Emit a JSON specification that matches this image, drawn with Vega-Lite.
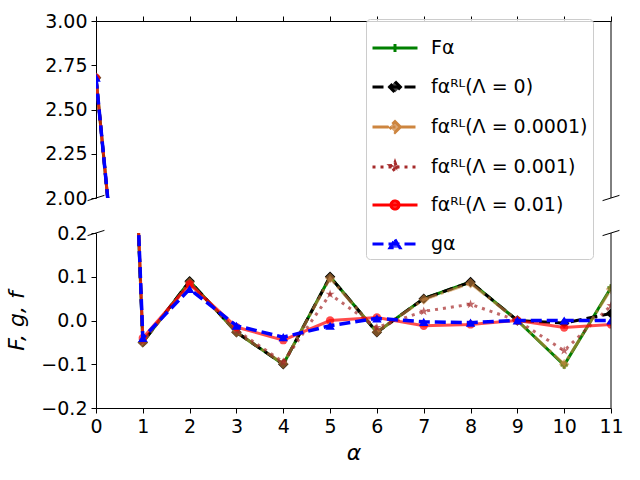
{
  "$schema": "https://vega.github.io/schema/vega-lite/v6.json",
  "padding": {"left": 5, "top": 12, "right": 5, "bottom": 5},
  "bounds": "flush",
  "spacing": 35,
  "config": {
    "font": "DejaVu Sans",
    "view": {"stroke": null},
    "axis": {
      "grid": false,
      "labelFont": "DejaVu Sans",
      "titleFont": "DejaVu Sans",
      "labelFontSize": 19,
      "titleFontSize": 22,
      "titleFontWeight": "normal",
      "titleFontStyle": "italic",
      "labelColor": "#000000",
      "titleColor": "#000000",
      "domainColor": "#000000",
      "tickColor": "#000000",
      "tickSize": 5,
      "labelPadding": 4,
      "labelFlush": false,
      "labelOverlap": false
    }
  },
  "datasets": {
    "d": [
      {"alpha": 0, "value": 2.68, "series": "Fα"},
      {"alpha": 1, "value": -0.05, "series": "Fα"},
      {"alpha": 2, "value": 0.09, "series": "Fα"},
      {"alpha": 3, "value": -0.027, "series": "Fα"},
      {"alpha": 4, "value": -0.1, "series": "Fα"},
      {"alpha": 5, "value": 0.1, "series": "Fα"},
      {"alpha": 6, "value": -0.027, "series": "Fα"},
      {"alpha": 7, "value": 0.05, "series": "Fα"},
      {"alpha": 8, "value": 0.088, "series": "Fα"},
      {"alpha": 9, "value": 0.0, "series": "Fα"},
      {"alpha": 10, "value": -0.102, "series": "Fα"},
      {"alpha": 11, "value": 0.075, "series": "Fα"},
      {"alpha": 0, "value": 2.68, "series": "fαᴿᴸ(Λ = 0)"},
      {"alpha": 1, "value": -0.05, "series": "fαᴿᴸ(Λ = 0)"},
      {"alpha": 2, "value": 0.09, "series": "fαᴿᴸ(Λ = 0)"},
      {"alpha": 3, "value": -0.027, "series": "fαᴿᴸ(Λ = 0)"},
      {"alpha": 4, "value": -0.1, "series": "fαᴿᴸ(Λ = 0)"},
      {"alpha": 5, "value": 0.1, "series": "fαᴿᴸ(Λ = 0)"},
      {"alpha": 6, "value": -0.027, "series": "fαᴿᴸ(Λ = 0)"},
      {"alpha": 7, "value": 0.05, "series": "fαᴿᴸ(Λ = 0)"},
      {"alpha": 8, "value": 0.088, "series": "fαᴿᴸ(Λ = 0)"},
      {"alpha": 9, "value": 0.0, "series": "fαᴿᴸ(Λ = 0)"},
      {"alpha": 10, "value": -0.006, "series": "fαᴿᴸ(Λ = 0)"},
      {"alpha": 11, "value": 0.016, "series": "fαᴿᴸ(Λ = 0)"},
      {"alpha": 0, "value": 2.68, "series": "fαᴿᴸ(Λ = 0.0001)"},
      {"alpha": 1, "value": -0.05, "series": "fαᴿᴸ(Λ = 0.0001)"},
      {"alpha": 2, "value": 0.087, "series": "fαᴿᴸ(Λ = 0.0001)"},
      {"alpha": 3, "value": -0.027, "series": "fαᴿᴸ(Λ = 0.0001)"},
      {"alpha": 4, "value": -0.099, "series": "fαᴿᴸ(Λ = 0.0001)"},
      {"alpha": 5, "value": 0.097, "series": "fαᴿᴸ(Λ = 0.0001)"},
      {"alpha": 6, "value": -0.026, "series": "fαᴿᴸ(Λ = 0.0001)"},
      {"alpha": 7, "value": 0.048, "series": "fαᴿᴸ(Λ = 0.0001)"},
      {"alpha": 8, "value": 0.085, "series": "fαᴿᴸ(Λ = 0.0001)"},
      {"alpha": 9, "value": 0.0, "series": "fαᴿᴸ(Λ = 0.0001)"},
      {"alpha": 10, "value": -0.1, "series": "fαᴿᴸ(Λ = 0.0001)"},
      {"alpha": 11, "value": 0.072, "series": "fαᴿᴸ(Λ = 0.0001)"},
      {"alpha": 0, "value": 2.68, "series": "fαᴿᴸ(Λ = 0.001)"},
      {"alpha": 1, "value": -0.047, "series": "fαᴿᴸ(Λ = 0.001)"},
      {"alpha": 2, "value": 0.085, "series": "fαᴿᴸ(Λ = 0.001)"},
      {"alpha": 3, "value": -0.022, "series": "fαᴿᴸ(Λ = 0.001)"},
      {"alpha": 4, "value": -0.095, "series": "fαᴿᴸ(Λ = 0.001)"},
      {"alpha": 5, "value": 0.06, "series": "fαᴿᴸ(Λ = 0.001)"},
      {"alpha": 6, "value": -0.016, "series": "fαᴿᴸ(Λ = 0.001)"},
      {"alpha": 7, "value": 0.021, "series": "fαᴿᴸ(Λ = 0.001)"},
      {"alpha": 8, "value": 0.037, "series": "fαᴿᴸ(Λ = 0.001)"},
      {"alpha": 9, "value": 0.0, "series": "fαᴿᴸ(Λ = 0.001)"},
      {"alpha": 10, "value": -0.069, "series": "fαᴿᴸ(Λ = 0.001)"},
      {"alpha": 11, "value": 0.034, "series": "fαᴿᴸ(Λ = 0.001)"},
      {"alpha": 0, "value": 2.68, "series": "fαᴿᴸ(Λ = 0.01)"},
      {"alpha": 1, "value": -0.04, "series": "fαᴿᴸ(Λ = 0.01)"},
      {"alpha": 2, "value": 0.083, "series": "fαᴿᴸ(Λ = 0.01)"},
      {"alpha": 3, "value": -0.015, "series": "fαᴿᴸ(Λ = 0.01)"},
      {"alpha": 4, "value": -0.045, "series": "fαᴿᴸ(Λ = 0.01)"},
      {"alpha": 5, "value": 0.0, "series": "fαᴿᴸ(Λ = 0.01)"},
      {"alpha": 6, "value": 0.007, "series": "fαᴿᴸ(Λ = 0.01)"},
      {"alpha": 7, "value": -0.012, "series": "fαᴿᴸ(Λ = 0.01)"},
      {"alpha": 8, "value": -0.009, "series": "fαᴿᴸ(Λ = 0.01)"},
      {"alpha": 9, "value": 0.0, "series": "fαᴿᴸ(Λ = 0.01)"},
      {"alpha": 10, "value": -0.016, "series": "fαᴿᴸ(Λ = 0.01)"},
      {"alpha": 11, "value": -0.009, "series": "fαᴿᴸ(Λ = 0.01)"},
      {"alpha": 0, "value": 2.68, "series": "gα"},
      {"alpha": 1, "value": -0.04, "series": "gα"},
      {"alpha": 2, "value": 0.072, "series": "gα"},
      {"alpha": 3, "value": -0.012, "series": "gα"},
      {"alpha": 4, "value": -0.038, "series": "gα"},
      {"alpha": 5, "value": -0.012, "series": "gα"},
      {"alpha": 6, "value": 0.005, "series": "gα"},
      {"alpha": 7, "value": -0.003, "series": "gα"},
      {"alpha": 8, "value": -0.005, "series": "gα"},
      {"alpha": 9, "value": 0.0, "series": "gα"},
      {"alpha": 10, "value": 0.0, "series": "gα"},
      {"alpha": 11, "value": 0.0, "series": "gα"}
    ],
    "edgesTop": [
      {"alpha": -0.18, "alpha2": 0.18, "value": 1.985, "value2": 2.015},
      {"alpha": 10.82, "alpha2": 11.18, "value": 1.985, "value2": 2.015},
      {"alpha": 11, "alpha2": 11, "value": 2, "value2": 3}
    ],
    "edgesBottom": [
      {"alpha": -0.18, "alpha2": 0.18, "value": 0.194, "value2": 0.206},
      {"alpha": 10.82, "alpha2": 11.18, "value": 0.194, "value2": 0.206},
      {"alpha": 11, "alpha2": 11, "value": -0.2, "value2": 0.2}
    ]
  },
  "vconcat": [
    {
      "width": 515,
      "height": 177,
      "data": {"name": "d"},
      "encoding": {
        "x": {
          "field": "alpha",
          "type": "quantitative",
          "scale": {"domain": [0, 11], "nice": false},
          "axis": {"orient": "top", "labels": false, "title": null, "values": [0, 1, 2, 3, 4, 5, 6, 7, 8, 9, 10, 11]}
        },
        "y": {
          "field": "value",
          "type": "quantitative",
          "scale": {"domain": [2, 3], "nice": false, "zero": false},
          "axis": {"title": null, "values": [2, 2.25, 2.5, 2.75, 3], "format": ".2f"}
        }
      },
      "layer": [
        {
          "data": {"values": []},
          "mark": {"type": "point"},
          "encoding": {
            "stroke": {
              "field": "series",
              "type": "nominal",
              "scale": {
                "domain": ["Fα", "fαᴿᴸ(Λ = 0)", "fαᴿᴸ(Λ = 0.0001)", "fαᴿᴸ(Λ = 0.001)", "fαᴿᴸ(Λ = 0.01)", "gα"],
                "range": ["#008000", "#000000", "#cd853f", "#a52a2a", "#ff0000", "#0000ff"]
              },
              "legend": {
                "title": null,
                "orient": "none",
                "legendX": 270,
                "legendY": -2,
                "symbolSize": 2025,
                "symbolStrokeWidth": 3,
                "labelFont": "DejaVu Sans",
                "labelFontSize": 19,
                "labelColor": "#000000",
                "labelLimit": 400,
                "labelOffset": 12,
                "rowPadding": 4,
                "padding": 5,
                "fillColor": "rgba(255,255,255,0.8)",
                "strokeColor": "#cccccc",
                "cornerRadius": 4
              }
            },
            "fill": {
              "field": "series",
              "type": "nominal",
              "scale": {
                "domain": ["Fα", "fαᴿᴸ(Λ = 0)", "fαᴿᴸ(Λ = 0.0001)", "fαᴿᴸ(Λ = 0.001)", "fαᴿᴸ(Λ = 0.01)", "gα"],
                "range": ["transparent", "#000000", "#cd853f", "#a52a2a", "#ff0000", "#0000ff"]
              },
              "legend": {"title": null}
            },
            "shape": {
              "field": "series",
              "type": "nominal",
              "scale": {
                "domain": ["Fα", "fαᴿᴸ(Λ = 0)", "fαᴿᴸ(Λ = 0.0001)", "fαᴿᴸ(Λ = 0.001)", "fαᴿᴸ(Λ = 0.01)", "gα"],
                "range": [
                  "M-1,0H1M0,-0.18V0.18",
                  "M-1,0H1M0,-0.24L0.24,0L0,0.24L-0.24,0Z",
                  "M-1,0H1M0,-0.24L0.24,0L0,0.24L-0.24,0Z",
                  "M-1,0H1M0,-0.2L0.047,-0.065L0.19,-0.062L0.076,0.025L0.118,0.162L0,0.08L-0.118,0.162L-0.076,0.025L-0.19,-0.062L-0.047,-0.065Z",
                  "M-1,0H1M-0.18,0A0.18,0.18,0,1,0,0.18,0A0.18,0.18,0,1,0,-0.18,0Z",
                  "M-1,0H1M0,-0.2L0.22,0.17L-0.22,0.17Z"
                ]
              },
              "legend": {"title": null}
            },
            "strokeDash": {
              "field": "series",
              "type": "nominal",
              "scale": {
                "domain": ["Fα", "fαᴿᴸ(Λ = 0)", "fαᴿᴸ(Λ = 0.0001)", "fαᴿᴸ(Λ = 0.001)", "fαᴿᴸ(Λ = 0.01)", "gα"],
                "range": [[1, 0], [11, 5], [16, 4, 3, 4], [3, 5], [1, 0], [11, 5]]
              },
              "legend": {"title": null}
            },
            "opacity": {
              "field": "series",
              "type": "nominal",
              "scale": {
                "domain": ["Fα", "fαᴿᴸ(Λ = 0)", "fαᴿᴸ(Λ = 0.0001)", "fαᴿᴸ(Λ = 0.001)", "fαᴿᴸ(Λ = 0.01)", "gα"],
                "range": [1, 1, 0.6, 0.7, 0.7, 1]
              },
              "legend": {"title": null}
            }
          }
        },
        {"transform": [{"filter": "datum.series === 'Fα'"}], "mark": {"type": "line", "clip": true, "strokeWidth": 3, "color": "#008000"}},
        {"transform": [{"filter": "datum.series === 'Fα'"}], "mark": {"type": "point", "clip": true, "filled": true, "shape": "cross", "size": 50, "color": "#008000", "opacity": 1}},
        {"transform": [{"filter": "datum.series === 'fαᴿᴸ(Λ = 0)'"}], "mark": {"type": "line", "clip": true, "strokeWidth": 3, "color": "#000000", "strokeDash": [11, 5]}},
        {"transform": [{"filter": "datum.series === 'fαᴿᴸ(Λ = 0)'"}], "mark": {"type": "point", "clip": true, "filled": true, "shape": "diamond", "size": 110, "color": "#000000", "opacity": 1}},
        {"transform": [{"filter": "datum.series === 'fαᴿᴸ(Λ = 0.0001)'"}], "mark": {"type": "line", "clip": true, "strokeWidth": 3, "color": "#cd853f", "opacity": 0.6, "strokeDash": [16, 4, 3, 4]}},
        {"transform": [{"filter": "datum.series === 'fαᴿᴸ(Λ = 0.0001)'"}], "mark": {"type": "point", "clip": true, "filled": true, "shape": "diamond", "size": 110, "color": "#cd853f", "opacity": 0.6}},
        {"transform": [{"filter": "datum.series === 'fαᴿᴸ(Λ = 0.001)'"}], "mark": {"type": "line", "clip": true, "strokeWidth": 3, "color": "#a52a2a", "opacity": 0.7, "strokeDash": [3, 5]}},
        {"transform": [{"filter": "datum.series === 'fαᴿᴸ(Λ = 0.001)'"}], "mark": {"type": "point", "clip": true, "filled": true, "shape": "M0,-1L0.235,-0.324L0.951,-0.309L0.38,0.124L0.588,0.809L0,0.4L-0.588,0.809L-0.38,0.124L-0.951,-0.309L-0.235,-0.324Z", "size": 90, "color": "#a52a2a", "opacity": 0.7}},
        {"transform": [{"filter": "datum.series === 'fαᴿᴸ(Λ = 0.01)'"}], "mark": {"type": "line", "clip": true, "strokeWidth": 3, "color": "#ff0000", "opacity": 0.7}},
        {"transform": [{"filter": "datum.series === 'fαᴿᴸ(Λ = 0.01)'"}], "mark": {"type": "point", "clip": true, "filled": true, "shape": "circle", "size": 70, "color": "#ff0000", "opacity": 0.7}},
        {"transform": [{"filter": "datum.series === 'gα'"}], "mark": {"type": "line", "clip": true, "strokeWidth": 3.5, "color": "#0000ff", "strokeDash": [11, 5]}},
        {"transform": [{"filter": "datum.series === 'gα'"}], "mark": {"type": "point", "clip": true, "filled": true, "shape": "triangle-up", "size": 90, "color": "#0000ff", "opacity": 1}},
        {
          "data": {"name": "edgesTop"},
          "mark": {"type": "rule", "clip": false, "color": "#000000", "strokeWidth": 1},
          "encoding": {
            "x2": {"field": "alpha2"},
            "y2": {"field": "value2"}
          }
        }
      ]
    },
    {
      "width": 515,
      "height": 175,
      "data": {"name": "d"},
      "encoding": {
        "x": {
          "field": "alpha",
          "type": "quantitative",
          "scale": {"domain": [0, 11], "nice": false},
          "axis": {"title": "α", "values": [0, 1, 2, 3, 4, 5, 6, 7, 8, 9, 10, 11], "titlePadding": 6}
        },
        "y": {
          "field": "value",
          "type": "quantitative",
          "scale": {"domain": [-0.2, 0.2], "nice": false, "zero": false},
          "axis": {"title": "F, g, f", "values": [-0.2, -0.1, 0, 0.1, 0.2], "format": ".1f", "titlePadding": 12}
        }
      },
      "layer": [
        {"transform": [{"filter": "datum.series === 'Fα'"}], "mark": {"type": "line", "clip": true, "strokeWidth": 3, "color": "#008000"}},
        {"transform": [{"filter": "datum.series === 'Fα'"}], "mark": {"type": "point", "clip": true, "filled": true, "shape": "cross", "size": 50, "color": "#008000", "opacity": 1}},
        {"transform": [{"filter": "datum.series === 'fαᴿᴸ(Λ = 0)'"}], "mark": {"type": "line", "clip": true, "strokeWidth": 3, "color": "#000000", "strokeDash": [11, 5]}},
        {"transform": [{"filter": "datum.series === 'fαᴿᴸ(Λ = 0)'"}], "mark": {"type": "point", "clip": true, "filled": true, "shape": "diamond", "size": 110, "color": "#000000", "opacity": 1}},
        {"transform": [{"filter": "datum.series === 'fαᴿᴸ(Λ = 0.0001)'"}], "mark": {"type": "line", "clip": true, "strokeWidth": 3, "color": "#cd853f", "opacity": 0.6, "strokeDash": [16, 4, 3, 4]}},
        {"transform": [{"filter": "datum.series === 'fαᴿᴸ(Λ = 0.0001)'"}], "mark": {"type": "point", "clip": true, "filled": true, "shape": "diamond", "size": 110, "color": "#cd853f", "opacity": 0.6}},
        {"transform": [{"filter": "datum.series === 'fαᴿᴸ(Λ = 0.001)'"}], "mark": {"type": "line", "clip": true, "strokeWidth": 3, "color": "#a52a2a", "opacity": 0.7, "strokeDash": [3, 5]}},
        {"transform": [{"filter": "datum.series === 'fαᴿᴸ(Λ = 0.001)'"}], "mark": {"type": "point", "clip": true, "filled": true, "shape": "M0,-1L0.235,-0.324L0.951,-0.309L0.38,0.124L0.588,0.809L0,0.4L-0.588,0.809L-0.38,0.124L-0.951,-0.309L-0.235,-0.324Z", "size": 90, "color": "#a52a2a", "opacity": 0.7}},
        {"transform": [{"filter": "datum.series === 'fαᴿᴸ(Λ = 0.01)'"}], "mark": {"type": "line", "clip": true, "strokeWidth": 3, "color": "#ff0000", "opacity": 0.7}},
        {"transform": [{"filter": "datum.series === 'fαᴿᴸ(Λ = 0.01)'"}], "mark": {"type": "point", "clip": true, "filled": true, "shape": "circle", "size": 70, "color": "#ff0000", "opacity": 0.7}},
        {"transform": [{"filter": "datum.series === 'gα'"}], "mark": {"type": "line", "clip": true, "strokeWidth": 3.5, "color": "#0000ff", "strokeDash": [11, 5]}},
        {"transform": [{"filter": "datum.series === 'gα'"}], "mark": {"type": "point", "clip": true, "filled": true, "shape": "triangle-up", "size": 90, "color": "#0000ff", "opacity": 1}},
        {
          "data": {"name": "edgesBottom"},
          "mark": {"type": "rule", "clip": false, "color": "#000000", "strokeWidth": 1},
          "encoding": {
            "x2": {"field": "alpha2"},
            "y2": {"field": "value2"}
          }
        }
      ]
    }
  ]
}
